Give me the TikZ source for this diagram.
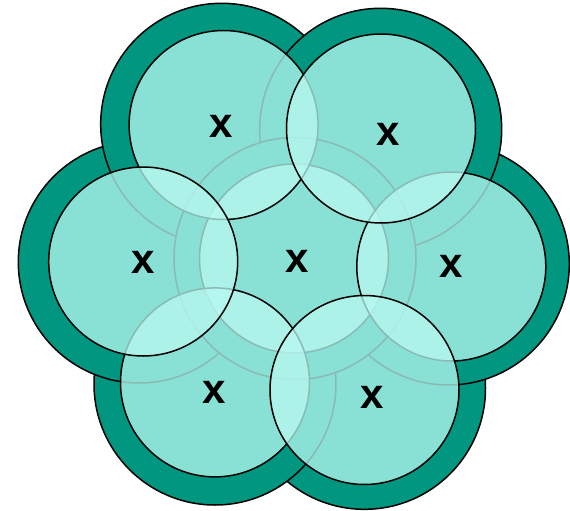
\documentclass[tikz,border=0pt]{standalone}
\usepackage{fontspec}
\newfontfamily\labfont{Liberation Sans}
\definecolor{darkteal}{RGB}{0,150,128}
\definecolor{lightfill}{RGB}{184,249,241}
\begin{document}
\begin{tikzpicture}[x=1pt,y=-1pt,
  outerdisk/.style={circle,draw=black,line width=1.5pt,fill=darkteal,minimum size=242pt,inner sep=0pt},
  innerdisk/.style={circle,draw=black,line width=1.5pt,fill=lightfill,fill opacity=0.75,draw opacity=1,minimum size=189pt,inner sep=0pt},
  lab/.style={font=\labfont\bfseries\fontsize{42}{42}\selectfont,text=black,inner sep=0pt}]
\useasboundingbox (0,0) rectangle (570,511);
% outer disks
\node[outerdisk] (oBR) at (364.5,388.3) {};
\node[outerdisk] (oR)  at (448.3,264) {};
\node[outerdisk] (oBL) at (215,384) {};
\node[outerdisk] (oL)  at (139.3,262) {};
\node[outerdisk] (oTL) at (221.7,124.3) {};
\node[outerdisk] (oTR) at (380.7,129.3) {};
\node[outerdisk] (oC)  at (295,258.5) {};
% inner disks
\node[innerdisk] (iC)  at (294,258.5) {};
\node[innerdisk] (iTL) at (223.6,125) {};
\node[innerdisk] (iR)  at (451.3,266.5) {};
\node[innerdisk] (iTR) at (381,128.5) {};
\node[innerdisk] (iBL) at (215,382.4) {};
\node[innerdisk] (iL)  at (143.2,261.5) {};
\node[innerdisk] (iBR) at (364.5,390) {};
% labels
\node[lab] (lTL) at (220.7,126.5) {x};
\node[lab] (lTR) at (388.3,134.5) {x};
\node[lab] (lL)  at (143.5,262) {x};
\node[lab] (lC)  at (297.5,261.7) {x};
\node[lab] (lR)  at (451.5,266.5) {x};
\node[lab] (lBL) at (214.3,392.5) {x};
\node[lab] (lBR) at (372,397) {x};
\end{tikzpicture}
\end{document}
